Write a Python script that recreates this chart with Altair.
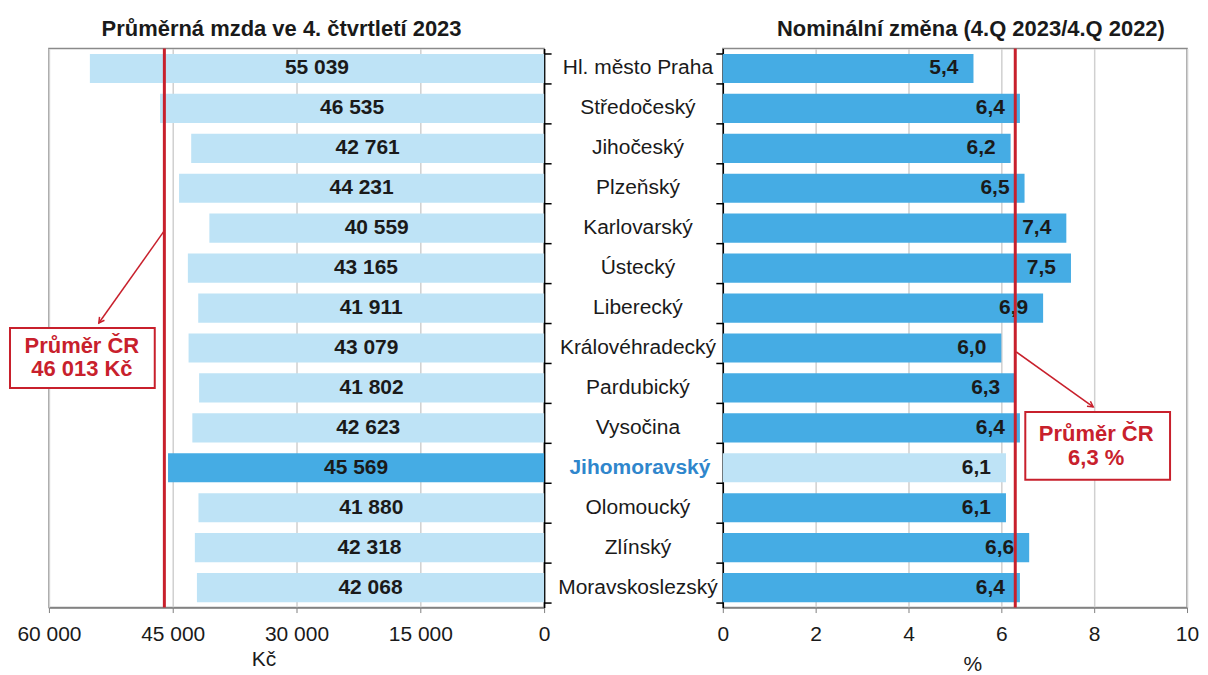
import altair as alt
import pandas as pd

regions = ["Hl. město Praha", "Středočeský", "Jihočeský", "Plzeňský", "Karlovarský",
           "Ústecký", "Liberecký", "Královéhradecký", "Pardubický", "Vysočina",
           "Jihomoravský", "Olomoucký", "Zlínský", "Moravskoslezský"]
wages = [55039, 46535, 42761, 44231, 40559, 43165, 41911, 43079, 41802, 42623,
         45569, 41880, 42318, 42068]
changes = [5.4, 6.4, 6.2, 6.5, 7.4, 7.5, 6.9, 6.0, 6.3, 6.4, 6.1, 6.1, 6.6, 6.4]
highlight = "Jihomoravský"
avg_wage = 46013
avg_change = 6.3
wage_ticks = [0, 15000, 30000, 45000, 60000]
change_ticks = [0, 2, 4, 6, 8, 10]

FONT = "Liberation Sans"
LIGHT = "#BEE3F6"
DARK = "#45ACE4"
RED = "#C8202C"
HL_TEXT = "#2F86CC"
TXT = "#1a1a1a"

df = pd.DataFrame({"region": regions, "wage": wages, "change": changes})
df["wage_label"] = [f"{v:,}".replace(",", " ") for v in wages]
df["change_label"] = [f"{v:.1f}".replace(".", ",") for v in changes]

ann = pd.DataFrame({"k": [0]})
wage_avg_df = pd.DataFrame({"v": [avg_wage]})
change_avg_df = pd.DataFrame({"v": [avg_change]})

yscale = alt.Scale(paddingInner=0.27, paddingOuter=0.135)
is_hl = alt.datum.region == highlight

PW_L, PW_M, PW_R, PH = 496, 179, 465, 560
FS = 21

# ---------------- left panel ----------------
y_left = alt.Y("region:N", sort=regions, scale=yscale,
               axis=alt.Axis(orient="right", labels=False, title=None, grid=False,
                             domainColor="black", tickColor="black", tickSize=7,
                             tickBand="extent", domainWidth=1.5, tickWidth=1.5))
x_left = alt.X("wage:Q", scale=alt.Scale(domain=[0, 60000], reverse=True),
               axis=alt.Axis(values=wage_ticks, labelFlush=False,
                             labelExpr="replace(format(datum.value, ','), ',', ' ')",
                             title="Kč", titleX=215, titleY=52, titleBaseline="middle",
                             tickSize=5, labelPadding=11))

base_l = alt.Chart(df)
bars_l = base_l.mark_bar().encode(
    x=x_left, y=y_left,
    color=alt.condition(is_hl, alt.value(DARK), alt.value(LIGHT)))
text_l = base_l.transform_calculate(mid="datum.wage / 2").mark_text(
    font=FONT, fontSize=FS, fontWeight="bold", color=TXT).encode(
    x=alt.X("mid:Q"), y=y_left, text="wage_label:N")
rule_l = alt.Chart(wage_avg_df).mark_rule(color=RED, strokeWidth=3).encode(x="v:Q")

box_l = alt.Chart(ann).mark_rect(fill="white", stroke=RED, strokeWidth=2).encode(
    x=alt.value(-39), x2=alt.value(106), y=alt.value(280), y2=alt.value(340))
t1_l = alt.Chart(ann).mark_text(font=FONT, fontSize=22, fontWeight="bold", color=RED).encode(
    x=alt.value(33), y=alt.value(298), text=alt.value("Průměr ČR"))
t2_l = alt.Chart(ann).mark_text(font=FONT, fontSize=22, fontWeight="bold", color=RED).encode(
    x=alt.value(33), y=alt.value(321),
    text=alt.value(f"{avg_wage:,}".replace(",", " ") + " Kč"))
arrow_l = alt.Chart(ann).mark_rule(color=RED, strokeWidth=1.5).encode(
    x=alt.value(116), y=alt.value(182), x2=alt.value(50), y2=alt.value(275))
head_l = alt.Chart(ann).mark_point(shape="M -0.55 1 L 0 0 L 0.55 1", filled=False,
                                   color=RED, strokeWidth=1.5, size=120, angle=215,
                                   opacity=1).encode(
    x=alt.value(50), y=alt.value(275))

left = alt.layer(bars_l, text_l, rule_l, arrow_l, head_l, box_l, t1_l, t2_l).properties(
    width=PW_L, height=PH,
    title=alt.TitleParams("Průměrná mzda ve 4. čtvrtletí 2023", font=FONT, fontSize=22,
                          fontWeight="bold", color=TXT, dx=-15, offset=6))

# ---------------- middle labels ----------------
y_mid = alt.Y("region:N", sort=regions, scale=yscale, axis=None)
mid_normal = alt.Chart(df).transform_filter(~is_hl).mark_text(
    font=FONT, fontSize=21, align="center", color=TXT).encode(
    y=y_mid, x=alt.value(94), text="region:N")
mid_hl = alt.Chart(df).transform_filter(is_hl).mark_text(
    font=FONT, fontSize=21, align="center", color=HL_TEXT, fontWeight="bold").encode(
    y=y_mid, x=alt.value(96), text="region:N")
middle = alt.layer(mid_normal, mid_hl).properties(
    width=PW_M, height=PH, view=alt.ViewBackground(stroke="transparent"))

# ---------------- right panel ----------------
y_right = alt.Y("region:N", sort=regions, scale=yscale,
                axis=alt.Axis(orient="left", labels=False, title=None, grid=False,
                              domainColor="black", tickColor="black", tickSize=7,
                              tickBand="extent", domainWidth=1.5, tickWidth=1.5))
x_right = alt.X("change:Q", scale=alt.Scale(domain=[0, 10]),
                axis=alt.Axis(values=change_ticks, labelFlush=False, title="%",
                              titleX=250, titleY=57, titleBaseline="middle",
                              tickSize=5, labelPadding=11))
base_r = alt.Chart(df)
bars_r = base_r.mark_bar().encode(
    x=x_right, y=y_right,
    color=alt.condition(is_hl, alt.value(LIGHT), alt.value(DARK)))
text_r = base_r.mark_text(font=FONT, fontSize=FS, fontWeight="bold", color=TXT,
                          align="right", dx=-15).encode(
    x="change:Q", y=y_right, text="change_label:N")
rule_r = alt.Chart(change_avg_df).mark_rule(color=RED, strokeWidth=3).encode(x="v:Q")

box_r = alt.Chart(ann).mark_rect(fill="white", stroke=RED, strokeWidth=2).encode(
    x=alt.value(303), x2=alt.value(448), y=alt.value(364), y2=alt.value(432))
t1_r = alt.Chart(ann).mark_text(font=FONT, fontSize=22, fontWeight="bold", color=RED).encode(
    x=alt.value(374), y=alt.value(386), text=alt.value("Průměr ČR"))
t2_r = alt.Chart(ann).mark_text(font=FONT, fontSize=22, fontWeight="bold", color=RED).encode(
    x=alt.value(374), y=alt.value(410),
    text=alt.value(f"{avg_change:.1f}".replace(".", ",") + " %"))
arrow_r = alt.Chart(ann).mark_rule(color=RED, strokeWidth=1.5).encode(
    x=alt.value(294), y=alt.value(304), x2=alt.value(371), y2=alt.value(359))
head_r = alt.Chart(ann).mark_point(shape="M -0.55 1 L 0 0 L 0.55 1", filled=False,
                                   color=RED, strokeWidth=1.5, size=120, angle=125,
                                   opacity=1).encode(
    x=alt.value(371), y=alt.value(359))

right = alt.layer(bars_r, text_r, rule_r, arrow_r, head_r, box_r, t1_r, t2_r).properties(
    width=PW_R, height=PH,
    title=alt.TitleParams("Nominální změna (4.Q 2023/4.Q 2022)", font=FONT, fontSize=22,
                          fontWeight="bold", color=TXT, dx=16, offset=6))

chart = alt.hconcat(left, middle, right, spacing=0, bounds="flush").properties(
    padding={"left": 0, "top": 8, "right": 0, "bottom": 0}
).configure_view(
    stroke="#8a8a8a", strokeWidth=1.5
).configure_axis(
    labelFont=FONT, labelFontSize=21, labelColor=TXT,
    titleFont=FONT, titleFontSize=21, titleFontWeight="normal", titleColor=TXT,
    gridColor="#d0d0d0", gridWidth=1.5, domainColor="#7f7f7f", tickColor="#7f7f7f",
    domainWidth=1.5
)

chart.save("out.html", embed_options={"renderer": "svg", "actions": False})
